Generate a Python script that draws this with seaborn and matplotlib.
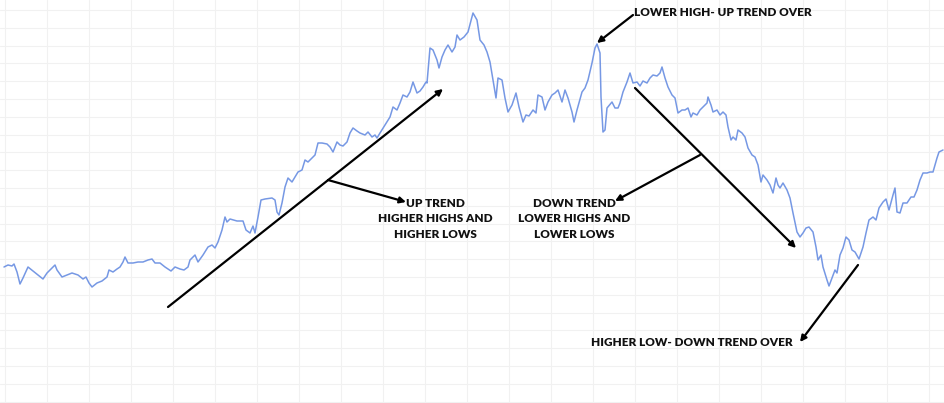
import numpy as np
import pandas as pd
import matplotlib
matplotlib.use("Agg")
import matplotlib.pyplot as plt
import seaborn as sns

# price path (day index, price)
days = [4, 8, 12, 14, 17, 20, 23, 28, 33, 38, 43, 47, 51, 55, 57, 62, 67, 72, 78, 83,
        86, 89, 92, 97, 102, 107, 109, 113, 117, 120, 123, 125, 128, 133, 138, 143, 148, 152, 155, 160,
        165, 171, 175, 180, 184, 188,
        190, 195, 198, 203, 208, 212, 215, 218, 222, 225, 227, 230, 237, 243, 246, 250, 253, 255, 258, 261,
        265, 272, 275, 277, 279, 282, 285, 288, 292, 295, 298, 302, 305, 308, 312, 315, 318, 322, 327, 330,
        333, 337,
        340, 343, 347, 350, 353, 357, 360, 365, 368, 372, 375, 377, 380, 385, 390, 393, 397, 400, 403, 407,
        410, 413, 417, 420, 423, 426, 427, 430, 433, 437, 439, 442, 445, 448, 452, 455, 457, 460, 464, 468,
        472, 473, 477, 480, 484, 487,
        490, 493, 496, 498, 502, 505, 508, 512, 516, 519, 523, 526, 529, 533, 536, 538, 542, 545, 548, 552,
        555, 558, 562, 565, 568, 572, 574, 577, 582, 585, 588, 592, 595, 597, 600, 601, 603, 605, 607, 612,
        615, 618,
        620, 623, 627, 630, 633, 637, 640, 643, 647, 650, 653, 657, 660, 662, 665, 668, 672, 675, 678, 682,
        685, 688, 691, 693, 697, 700, 703, 707, 708, 711, 713, 717, 720, 723, 726, 728, 731, 733, 736, 738,
        742, 745, 748, 752, 755, 758, 761, 763, 767, 770, 773, 776, 778,
        780, 783, 787, 790, 793, 797, 800, 803, 806, 809, 813, 816, 818, 821, 823, 827, 829, 832, 835, 837,
        840, 843, 846, 849, 852, 855, 859, 863, 866, 869, 873, 876, 879, 883, 886, 889, 893, 895, 897, 900,
        903, 907, 911, 914, 917, 920, 923, 927, 930, 933, 937, 939, 943]

price = [136, 138, 137, 139, 131, 119, 125, 136, 132, 128, 124, 130, 134, 138, 133, 126, 128, 130, 128, 124,
         126, 120, 116, 120, 122, 126, 133, 131, 134, 136, 141, 146, 140, 140, 141, 141, 143, 144, 140, 140,
         136, 132, 136, 134, 133, 136,
         143, 148, 141, 148, 156, 158, 155, 161, 173, 186, 181, 184, 182, 182, 173, 170, 177, 170, 186, 203,
         204, 205, 203, 191, 188, 200, 216, 225, 221, 226, 231, 233, 243, 241, 245, 248, 260, 260, 259, 256,
         251, 261,
         258, 257, 261, 270, 275, 272, 270, 268, 271, 266, 268, 265, 270, 278, 286, 296, 293, 300, 308, 306,
         311, 321, 310, 312, 316, 321, 320, 355, 353, 343, 335, 346, 353, 358, 351, 356, 368, 363, 366, 371,
         386, 390, 383, 363, 358, 351,
         341, 323, 305, 325, 323, 305, 291, 298, 310, 296, 281, 288, 287, 293, 290, 308, 306, 293, 301, 308,
         310, 313, 301, 313, 305, 291, 281, 293, 311, 315, 323, 340, 355, 359, 350, 306, 271, 273, 295, 301,
         295, 295,
         300, 311, 321, 330, 320, 321, 317, 322, 320, 325, 328, 327, 330, 336, 325, 316, 308, 305, 290, 293,
         293, 295, 286, 290, 288, 293, 296, 300, 306, 298, 291, 293, 288, 291, 288, 276, 263, 266, 263, 273,
         270, 266, 255, 248, 246, 238, 221, 228, 223, 218, 210, 225, 218,
         215, 220, 213, 205, 190, 171, 166, 170, 175, 176, 171, 156, 143, 148, 136, 123, 117, 125, 133, 130,
         148, 155, 166, 163, 153, 151, 144, 156, 170, 183, 186, 183, 195, 201, 204, 193, 208, 215, 191, 190,
         200, 200, 206, 206, 213, 223, 230, 230, 231, 231, 245, 251, 253]

up_text = "UP TREND\nHIGHER HIGHS AND\nHIGHER LOWS"
down_text = "DOWN TREND\nLOWER HIGHS AND\nLOWER LOWS"
top_text = "LOWER HIGH- UP TREND OVER"
bottom_text = "HIGHER LOW- DOWN TREND OVER"

df = pd.DataFrame({"day": days, "price": price})

sns.set_theme(style="whitegrid")
plt.rcParams["font.family"] = ["Lato", "DejaVu Sans"]

fig = plt.figure(figsize=(9.45, 4.03), dpi=100)
ax = fig.add_axes([0, 0, 1, 1])

sns.lineplot(data=df, x="day", y="price", ax=ax, color="#7698e4", linewidth=1.1)

ax.set_xlim(0, 945)
ax.set_ylim(0, 403)
ax.set_xticks(np.arange(5, 945, 42))
ax.set_yticks(np.arange(393, 0, -17.8))
ax.grid(True, color="#f1f1f1", linewidth=0.8)
ax.tick_params(length=0, labelbottom=False, labelleft=False)
ax.set_xlabel("")
ax.set_ylabel("")
for s in ax.spines.values():
    s.set_visible(False)

arrow = dict(arrowstyle="-|>", color="black", lw=1.6, mutation_scale=9, shrinkA=0, shrinkB=0)
line = dict(arrowstyle="-", color="black", lw=1.6, shrinkA=0, shrinkB=0)
tfont = dict(fontsize=8.5, fontweight="heavy", color="#111111")

# up trend
ax.annotate("", xy=(443, 314), xytext=(168, 96), arrowprops=arrow)
ax.annotate("", xy=(406, 201), xytext=(328, 223), arrowprops=arrow)
ax.text(435, 184, up_text, ha="center", va="center", linespacing=1.45, **tfont)

# down trend
ax.annotate("", xy=(796, 155), xytext=(635, 315), arrowprops=arrow)
ax.annotate("", xy=(615, 202), xytext=(700, 248), arrowprops=arrow)
ax.text(574, 184, down_text, ha="center", va="center", linespacing=1.45, **tfont)

# turning points
ax.annotate("", xy=(597, 360), xytext=(633, 388), arrowprops=arrow)
ax.text(634, 391, top_text, ha="left", va="center", **tfont)
ax.annotate("", xy=(800, 61), xytext=(858, 138), arrowprops=arrow)
ax.text(793, 60, bottom_text, ha="right", va="center", **tfont)

fig.savefig("out.png", dpi=100)
